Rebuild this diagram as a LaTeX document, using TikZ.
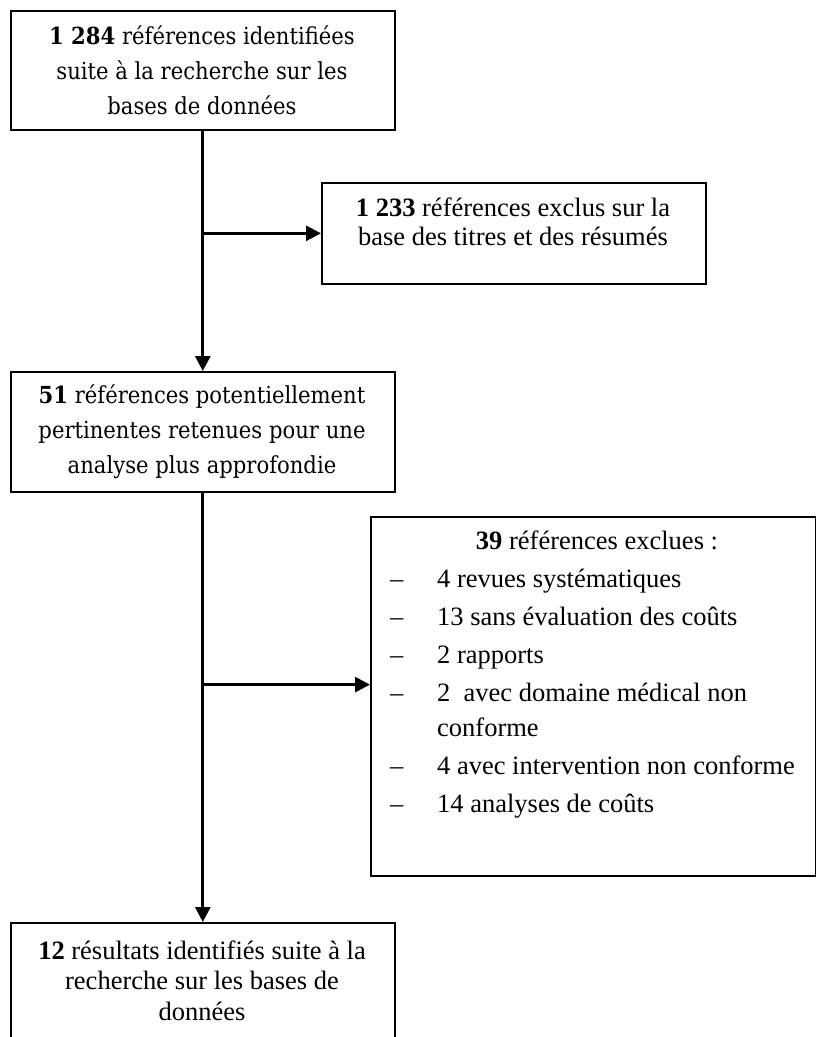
\documentclass[tikz,border=0pt]{standalone}
\usepackage{fontspec}
\setmainfont{Liberation Serif}
\newfontfamily\camb{DejaVu Serif Condensed}
\usetikzlibrary{arrows.meta}
\begin{document}
\begin{tikzpicture}[x=1pt,y=-1pt,
  box/.style={draw, line width=1.6pt, rectangle, inner sep=0pt, anchor=north west},
  conn/.style={line width=2.8pt, -{Triangle[length=15pt,width=15pt]}},
  ctext/.style={anchor=base, inner sep=0pt, font={\camb\fontsize{23.5}{35}\selectfont}},
  ttext/.style={anchor=base, inner sep=0pt, font={\fontsize{26.5}{29}\selectfont}},
  ltext/.style={anchor=base west, inner sep=0pt, font={\fontsize{26.5}{35}\selectfont}}]
\useasboundingbox (0,0) rectangle (816,1037);
% boxes
\node[box, minimum width=384pt, minimum height=119pt] (b1) at (10,10) {};
\node[box, minimum width=384pt, minimum height=101pt] (b2) at (321,182) {};
\node[box, minimum width=384pt, minimum height=120pt] (b3) at (10,371) {};
\node[box, minimum width=445pt, minimum height=359pt] (b4) at (370,516) {};
\node[box, minimum width=384pt, minimum height=140pt] (b5) at (10,922) {};
% texts
\node[ctext] (t1) at (202,44) {\begin{tabular}[t]{@{}c@{}}\textbf{1 284} références identifiées\\ suite à la recherche sur les\\ bases de données\end{tabular}};
\node[ttext] (t2) at (513,216) {\begin{tabular}[t]{@{}c@{}}\textbf{1 233} références exclus sur la\\ base des titres et des résumés\end{tabular}};
\node[ctext] (t3) at (202,403) {\begin{tabular}[t]{@{}c@{}}\textbf{51} références potentiellement\\ pertinentes retenues pour une\\ analyse plus approfondie\end{tabular}};
\node[ttext] (t4h) at (597,549) {\textbf{39} références exclues :};
\node[ltext] (t4) at (390,587) {\begin{tabular}[t]{@{}l@{}}\makebox[47pt][l]{–}4 revues systématiques\\[3pt]
\makebox[47pt][l]{–}13 sans évaluation des coûts\\[3pt]
\makebox[47pt][l]{–}2 rapports\\[3pt]
\makebox[47pt][l]{–}2\ \ avec domaine médical non\\
\makebox[47pt][l]{}conforme\\[3pt]
\makebox[47pt][l]{–}4 avec intervention non conforme\\[3pt]
\makebox[47pt][l]{–}14 analyses de coûts\end{tabular}};
\node[ttext, font={\fontsize{26.5}{30.5}\selectfont}] (t5) at (202,959) {\begin{tabular}[t]{@{}c@{}}\textbf{12} résultats identifiés suite à la\\ recherche sur les bases de\\ données\end{tabular}};
% connectors
\draw[conn] (b1.south) -- (b3.north);
\coordinate (j1) at (b1.south |- b2.west);
\draw[conn] (j1) -- (b2.west);
\draw[conn] (b3.south) -- (b5.north);
\path (b3.south) ++(0,192) coordinate (j2);
\draw[conn] (j2) -- (j2 -| b4.west);
\end{tikzpicture}
\end{document}
